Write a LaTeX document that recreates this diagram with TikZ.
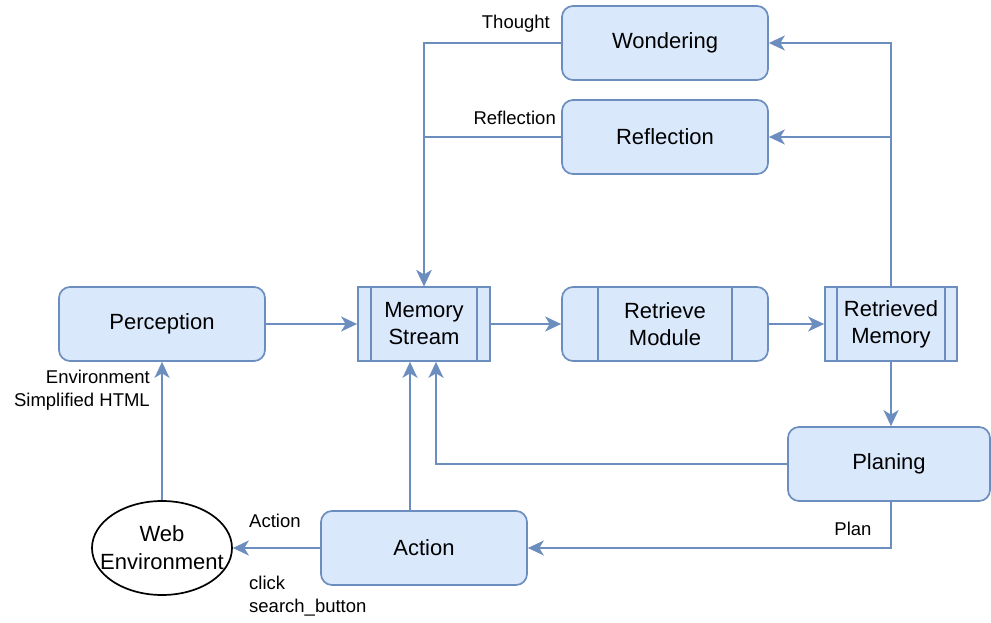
\documentclass[tikz,border=0pt]{standalone}
\usepackage{fontspec}
\setmainfont{Liberation Sans}
\usetikzlibrary{arrows.meta,shapes.geometric}
\definecolor{bfill}{HTML}{DAE8FC}
\definecolor{bdraw}{HTML}{6C8EBF}
\tikzset{
  x=1pt,y=-1pt,
  box/.style={draw=bdraw,fill=bfill,line width=1.7pt,minimum width=206pt,minimum height=74pt,inner sep=0pt,align=center,font=\fontsize{22}{27}\selectfont},
  rbox/.style={box,rounded corners=11pt},
  pbox/.style={box,minimum width=132pt},
  conn/.style={draw=bdraw,line width=1.7pt},
  arr/.style={conn,-{Stealth[length=16pt,width=15pt,inset=4.5pt]}},
  lbl/.style={font=\fontsize{18.5}{23}\selectfont,inner sep=0pt},
}
\begin{document}
\begin{tikzpicture}
\useasboundingbox (0,0) rectangle (991,623);
\node[rbox] (won) at (665,43) {Wondering};
\node[rbox] (ref) at (665,137) {Reflection};
\node[rbox] (perc) at (162,324) {Perception};
\node[pbox] (ms) at (424,324) {Memory\\Stream};
\node[rbox] (rmod) at (665,324) {Retrieve\\Module};
\node[pbox] (rm) at (891,324) {Retrieved\\Memory};
\node[rbox,minimum width=202pt] (plan) at (889,464) {Planing};
\node[rbox] (act) at (424,548) {Action};
\node[ellipse,draw=black,line width=1.7pt,fill=white,minimum width=140pt,minimum height=94pt,inner sep=0pt] (web) at (162,548) {};
\node[align=center,inner sep=0pt,font=\fontsize{22}{28}\selectfont] (webtxt) at (web.center) {Web\\Environment};
% inner lines of process boxes
\draw[conn] ([xshift=14pt]ms.north west) -- ([xshift=14pt]ms.south west);
\draw[conn] ([xshift=-14pt]ms.north east) -- ([xshift=-14pt]ms.south east);
\draw[conn] ([xshift=13pt]rm.north west) -- ([xshift=13pt]rm.south west);
\draw[conn] ([xshift=-13pt]rm.north east) -- ([xshift=-13pt]rm.south east);
\draw[conn] ([xshift=37pt]rmod.north west) -- ([xshift=37pt]rmod.south west);
\draw[conn] ([xshift=-37pt]rmod.north east) -- ([xshift=-37pt]rmod.south east);
% connectors
\draw[arr] (won.west) -| (ms.north);
\draw[arr] (ref.west) -| (ms.north);
\draw[arr] (rm.north) |- (won.east);
\draw[arr] (rm.north) |- (ref.east);
\draw[arr] (perc.east) -- (ms.west);
\draw[arr] (ms.east) -- (rmod.west);
\draw[arr] (rmod.east) -- (rm.west);
\draw[arr] (rm.south) -- (rm.south |- plan.north);
\draw[arr] (plan.west) -| ([xshift=12pt]ms.south);
\draw[arr] ([xshift=-14pt]act.north) -- ([xshift=-14pt]ms.south);
\draw[arr] (rm.south |- plan.south) |- (act.east);
\draw[arr] (act.west) -- (web.east);
\draw[arr] (web.north) -- (perc.south);
% labels
\node[lbl,anchor=east] (lth) at (550,24) {Thought};
\node[lbl,anchor=east] (lre) at (556,118) {Reflection};
\node[lbl] (lpl) at (853,529) {Plan};
\node[lbl,anchor=west] (lac) at (249,521) {Action};
\node[lbl,anchor=west,align=left] (lcl) at (249,596) {click\\search\_button};
\node[lbl,anchor=east,align=right] (len) at (150,390) {Environment\\Simplified HTML};
\end{tikzpicture}
\end{document}
